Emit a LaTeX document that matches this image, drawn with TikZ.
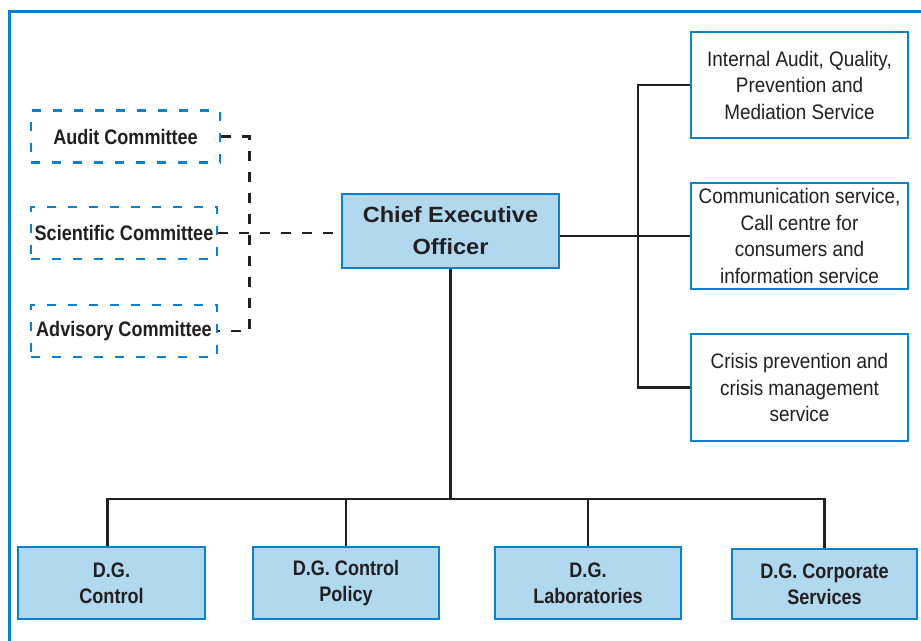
\documentclass[tikz,border=0pt]{standalone}
\usepackage{fontspec}
\setmainfont{Liberation Sans}
\newfontfamily\narrowfont{Liberation Sans}[FakeStretch=0.9]
\newfontfamily\narrowbold{Liberation Sans Bold}[FakeStretch=0.86]
\newfontfamily\widebold{Liberation Sans Bold}[FakeStretch=1.07]
\definecolor{bblue}{HTML}{0B80CC}
\definecolor{lblue}{HTML}{B0D8EF}
\definecolor{ink}{HTML}{231F20}
\tikzset{
  frameline/.style={draw=bblue, line width=3pt},
  committee/.style={draw=bblue, line width=2.6pt, dash pattern=on 9pt off 12pt,
    minimum height=52pt, inner sep=0pt, text=ink,
    font=\narrowbold\fontsize{21}{26}\selectfont},
  ceobox/.style={draw=bblue, fill=lblue, line width=2.6pt, minimum width=217pt,
    minimum height=74pt, align=center, text=ink, inner sep=0pt,
    font=\widebold\fontsize{22}{32}\selectfont},
  servicebox/.style={draw=bblue, fill=white, line width=2.6pt, minimum width=217pt,
    minimum height=106pt, align=center, text=ink, inner sep=0pt,
    font=\narrowfont\fontsize{21}{26.5}\selectfont},
  dgbox/.style={draw=bblue, fill=lblue, line width=2.6pt, minimum height=72pt,
    align=center, text=ink, inner sep=0pt,
    font=\narrowbold\fontsize{21}{26}\selectfont},
  solidlink/.style={draw=ink, line width=2.4pt},
  dashlink/.style={draw=ink, line width=2.4pt, dash pattern=on 10pt off 11pt}
}
\begin{document}
\begin{tikzpicture}[x=1pt, y=-1pt]
\useasboundingbox (0,0) rectangle (921,640);
\clip (0,0) rectangle (921,640);
\fill[white] (0,0) rectangle (921,640);
\draw[frameline] (9,660) -- (9,11) -- (940,11);

% committees
\node[committee, minimum width=189pt] (audit) at (125.5,136.5) {Audit Committee};
\node[committee, minimum width=186pt] (sci) at (124,233) {Scientific Committee};
\node[committee, minimum width=186pt] (adv) at (124,331) {Advisory Committee};

% CEO
\node[ceobox] (ceo) at (450.5,231) {Chief Executive\\Officer};

% services
\node[servicebox] (srv1) at (799.5,85) {Internal Audit, Quality,\\Prevention and\\Mediation Service};
\node[servicebox] (srv2) at (799.5,236) {Communication service,\\Call centre for\\consumers and\\information service};
\node[servicebox, minimum height=107pt] (srv3) at (799.5,387.5) {Crisis prevention and\\crisis management\\service};

% directorates
\node[dgbox, minimum width=187pt] (dg1) at (111.5,583) {D.G.\\Control};
\node[dgbox, minimum width=186pt] (dg2) at (346,583) {D.G. Control\\Policy};
\node[dgbox, minimum width=186pt] (dg3) at (588,583) {D.G.\\Laboratories};
\node[dgbox, minimum width=185pt, minimum height=70pt] (dg4) at (824.5,584) {D.G. Corporate\\Services};

% dashed links
\draw[dashlink] (audit.east) -- ++(28,0) |- (adv.east);
\draw[dashlink] (sci.east) -- (sci.east -| ceo.west);

% service links
\draw[solidlink] (ceo.east |- srv2.west) -- (srv2.west);
\draw[solidlink] (srv1.west) -- ++(-52,0) |- (srv3.west);

% directorate links
\coordinate (bus) at (450,499);
\draw[solidlink] (ceo.south) -- (ceo.south |- bus);
\draw[solidlink] ([xshift=-4pt]dg1.north) -- ([xshift=-4pt]dg1.north |- bus) -- (dg4.north |- bus) -- (dg4.north);
\draw[solidlink] (dg2.north) -- (dg2.north |- bus);
\draw[solidlink] (dg3.north) -- (dg3.north |- bus);
\end{tikzpicture}
\end{document}
